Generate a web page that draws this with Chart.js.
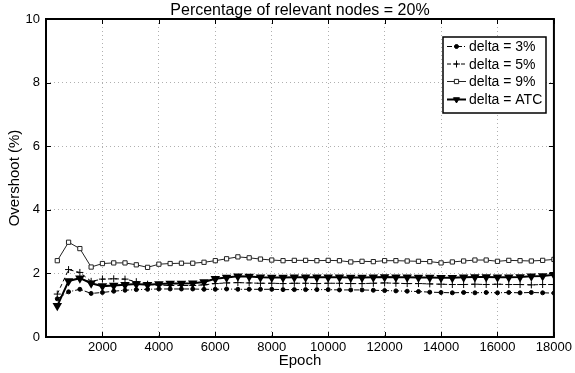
<!DOCTYPE html>
<html>
<head>
<meta charset="utf-8">
<title>Overshoot vs Epoch</title>
<script src="https://cdn.jsdelivr.net/npm/chart.js@4.4.0/dist/chart.umd.min.js"></script>
<style>
    html, body { margin: 0; padding: 0; background: #fff; }
    #wrap { width: 575px; height: 373px; }
</style>
</head>
<body>
<div id="wrap"><canvas id="chart" width="575" height="373"></canvas></div>
<script>
// Data
const epochs = [400, 800, 1200, 1600, 2000, 2400, 2800, 3200, 3600, 4000,
    4400, 4800, 5200, 5600, 6000, 6400, 6800, 7200, 7600, 8000,
    8400, 8800, 9200, 9600, 10000, 10400, 10800, 11200, 11600, 12000,
    12400, 12800, 13200, 13600, 14000, 14400, 14800, 15200, 15600, 16000,
    16400, 16800, 17200, 17600, 18000];

const delta3 = [1.20, 1.42, 1.50, 1.37, 1.40, 1.44, 1.47, 1.49, 1.50, 1.51,
    1.51, 1.51, 1.51, 1.50, 1.50, 1.51, 1.50, 1.50, 1.50, 1.50,
    1.49, 1.49, 1.49, 1.49, 1.49, 1.48, 1.48, 1.48, 1.47, 1.46,
    1.45, 1.44, 1.43, 1.41, 1.40, 1.39, 1.40, 1.39, 1.40, 1.39,
    1.40, 1.39, 1.40, 1.39, 1.38];

const delta5 = [1.35, 2.12, 2.03, 1.75, 1.82, 1.83, 1.82, 1.74, 1.66, 1.63,
    1.62, 1.62, 1.62, 1.64, 1.68, 1.70, 1.71, 1.70, 1.69, 1.69,
    1.68, 1.69, 1.69, 1.68, 1.69, 1.69, 1.68, 1.68, 1.69, 1.70,
    1.69, 1.68, 1.68, 1.67, 1.66, 1.65, 1.65, 1.66, 1.65, 1.66,
    1.65, 1.65, 1.64, 1.65, 1.65];

const delta9 = [2.40, 2.98, 2.78, 2.20, 2.31, 2.33, 2.33, 2.27, 2.19, 2.29,
    2.31, 2.32, 2.32, 2.35, 2.40, 2.46, 2.52, 2.49, 2.45, 2.42,
    2.40, 2.41, 2.41, 2.40, 2.41, 2.40, 2.36, 2.38, 2.37, 2.40,
    2.40, 2.39, 2.38, 2.37, 2.33, 2.36, 2.39, 2.42, 2.42, 2.38,
    2.41, 2.40, 2.39, 2.41, 2.44];

const deltaATC = [0.98, 1.76, 1.85, 1.69, 1.60, 1.62, 1.64, 1.67, 1.64, 1.67,
    1.68, 1.68, 1.69, 1.73, 1.83, 1.87, 1.91, 1.90, 1.88, 1.87,
    1.87, 1.88, 1.88, 1.88, 1.88, 1.88, 1.87, 1.87, 1.88, 1.89,
    1.88, 1.88, 1.87, 1.87, 1.86, 1.86, 1.88, 1.89, 1.89, 1.88,
    1.88, 1.89, 1.91, 1.92, 1.96];

const xTicks = [2000, 4000, 6000, 8000, 10000, 12000, 14000, 16000, 18000];
const yTicks = [0, 2, 4, 6, 8, 10];

const chartTitle = 'Percentage of relevant nodes = 20%';
const FONT = 'Liberation Sans, Arial, Helvetica, sans-serif';

function toPoints(values) {
    return values.map((v, i) => ({ x: epochs[i], y: v }));
}

// Hide the grid line that falls on the frame
function gridColor(edge) {
    return ctx => (ctx.tick && (ctx.tick.value === 0 || ctx.tick.value === edge) ? 'rgba(0,0,0,0)' : '#b0b0b0');
}

// MATLAB-like frame, inward ticks, title centred on the axes and legend box
const matlabFrame = {
    id: 'matlabFrame',
    afterDraw(chart) {
        const ctx = chart.ctx;
        const area = chart.chartArea;
        const xs = chart.scales.x;
        const ys = chart.scales.y;
        const tick = 5;

        ctx.save();
        ctx.strokeStyle = '#000';
        ctx.lineWidth = 1;
        ctx.beginPath();
        xTicks.forEach(t => {
            const px = Math.round(xs.getPixelForValue(t)) + 0.5;
            ctx.moveTo(px, area.bottom); ctx.lineTo(px, area.bottom - tick);
            ctx.moveTo(px, area.top); ctx.lineTo(px, area.top + tick);
        });
        yTicks.forEach(t => {
            const py = Math.round(ys.getPixelForValue(t)) + 0.5;
            ctx.moveTo(area.left, py); ctx.lineTo(area.left + tick, py);
            ctx.moveTo(area.right, py); ctx.lineTo(area.right - tick, py);
        });
        ctx.stroke();

        ctx.lineWidth = 2;
        ctx.strokeRect(area.left, area.top, area.right - area.left, area.bottom - area.top);

        // Title
        ctx.fillStyle = '#000';
        ctx.font = '16px ' + FONT;
        ctx.textAlign = 'center';
        ctx.textBaseline = 'middle';
        ctx.fillText(chartTitle, (area.left + area.right) / 2, 11);

        // Legend
        const box = { x: 443, y: 37, w: 103, h: 76 };
        ctx.fillStyle = '#fff';
        ctx.fillRect(box.x, box.y, box.w, box.h);
        ctx.lineWidth = 1.5;
        ctx.strokeRect(box.x, box.y, box.w, box.h);

        const rows = [46.5, 64, 81.5, 99.5];
        ctx.font = '14px ' + FONT;
        ctx.textAlign = 'left';
        chart.data.datasets.forEach((ds, i) => {
            const y = rows[i];
            ctx.strokeStyle = ds.borderColor;
            ctx.lineWidth = ds.borderWidth;
            ctx.setLineDash(ds.borderDash || []);
            ctx.beginPath();
            ctx.moveTo(447, y);
            ctx.lineTo(466, y);
            ctx.stroke();
            ctx.setLineDash([]);
            ctx.fillStyle = ds.pointBackgroundColor;
            ctx.strokeStyle = ds.pointBorderColor;
            ctx.lineWidth = 1;
            Chart.helpers.drawPoint(ctx, {
                pointStyle: ds.pointStyle,
                radius: ds.pointRadius,
                rotation: ds.pointRotation || 0,
                borderWidth: 1
            }, 456.5, y);
            ctx.fillStyle = '#000';
            ctx.fillText(ds.label, 469, y + 1);
        });
        ctx.restore();
    }
};

const ctx = document.getElementById('chart').getContext('2d');

new Chart(ctx, {
    type: 'line',
    data: {
        datasets: [
            {
                label: 'delta = 3%',
                data: toPoints(delta3),
                borderColor: '#000',
                borderWidth: 1,
                borderDash: [5, 2, 1, 2],
                pointStyle: 'circle',
                pointRadius: 2,
                pointBackgroundColor: '#000',
                pointBorderColor: '#000'
            },
            {
                label: 'delta = 5%',
                data: toPoints(delta5),
                borderColor: '#000',
                borderWidth: 1,
                borderDash: [4, 3],
                pointStyle: 'cross',
                pointRadius: 3.5,
                pointBackgroundColor: '#000',
                pointBorderColor: '#000'
            },
            {
                label: 'delta = 9%',
                data: toPoints(delta9),
                borderColor: '#222',
                borderWidth: 1,
                pointStyle: 'rect',
                pointRadius: 3,
                pointBackgroundColor: '#fff',
                pointBorderColor: '#222'
            },
            {
                label: 'delta = ATC',
                data: toPoints(deltaATC),
                borderColor: '#000',
                borderWidth: 2,
                pointStyle: 'triangle',
                pointRotation: 180,
                pointRadius: 3.5,
                pointBackgroundColor: '#000',
                pointBorderColor: '#000'
            }
        ]
    },
    options: {
        responsive: false,
        animation: false,
        devicePixelRatio: 1,
        layout: { padding: { left: 0, right: 18, top: 19, bottom: 0 } },
        elements: {
            line: { tension: 0 },
            point: { borderWidth: 1, hoverRadius: 3 }
        },
        plugins: {
            legend: { display: false },
            tooltip: { enabled: false },
            title: { display: false }
        },
        scales: {
            x: {
                type: 'linear',
                min: 0,
                max: 18000,
                afterFit(scale) { scale.height = 36; },
                afterBuildTicks(scale) {
                    scale.ticks = [0].concat(xTicks).map(v => ({ value: v }));
                },
                ticks: {
                    color: '#000',
                    font: { family: FONT, size: 13 },
                    padding: 3,
                    maxRotation: 0,
                    autoSkip: false,
                    callback: v => (v === 0 ? '' : String(v))
                },
                grid: {
                    drawTicks: false,
                    color: gridColor(18000),
                    lineWidth: 1
                },
                border: { display: false, dash: [1, 3] },
                title: {
                    display: true,
                    text: 'Epoch',
                    color: '#000',
                    font: { family: FONT, size: 15 },
                    padding: { top: 0, bottom: 3 }
                }
            },
            y: {
                min: 0,
                max: 10,
                afterFit(scale) { scale.width = 46; },
                afterBuildTicks(scale) {
                    scale.ticks = yTicks.map(v => ({ value: v }));
                },
                ticks: {
                    color: '#000',
                    font: { family: FONT, size: 13 },
                    padding: 6
                },
                grid: {
                    drawTicks: false,
                    color: gridColor(10),
                    lineWidth: 1
                },
                border: { display: false, dash: [1, 3] },
                title: {
                    display: true,
                    text: 'Overshoot (%)',
                    color: '#000',
                    font: { family: FONT, size: 15 },
                    padding: { top: 6, bottom: 0 }
                }
            }
        }
    },
    plugins: [matlabFrame]
});
</script>
</body>
</html>
